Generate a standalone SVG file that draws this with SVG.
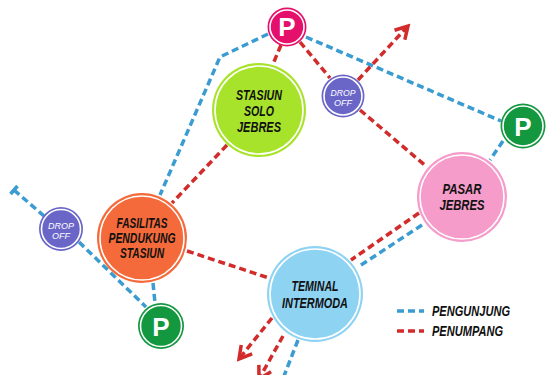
<svg xmlns="http://www.w3.org/2000/svg" width="546" height="375" viewBox="0 0 546 375">
<defs>
<style>
.bl{fill:none;stroke:#3a9cd0;stroke-width:3.5;stroke-dasharray:7 4;stroke-linejoin:round}
.rd{fill:none;stroke:#d22b2b;stroke-width:3.5;stroke-dasharray:7 4}
.ring{fill:none;stroke:#fff;stroke-width:1.6}
.lbl{font-family:"Liberation Sans",Arial,sans-serif;font-weight:bold;font-style:italic;font-size:14px;fill:#111;text-anchor:middle}
.dro{font-family:"Liberation Sans",Arial,sans-serif;font-style:italic;font-size:9px;fill:#fff;text-anchor:middle}
.p{font-family:"Liberation Sans",Arial,sans-serif;font-weight:bold;font-size:26px;fill:#fff;text-anchor:middle}
.leg{font-family:"Liberation Sans",Arial,sans-serif;font-weight:bold;font-style:italic;font-size:14.5px;fill:#111}
</style>
<marker id="arr" viewBox="0 0 10 10" refX="8" refY="5" markerWidth="5" markerHeight="5" orient="auto" markerUnits="strokeWidth">
<path d="M1,1 L8,5 L1,9" fill="none" stroke="#d22b2b" stroke-width="2"/>
</marker>
</defs>
<rect width="546" height="375" fill="#fff"/>
<g id="connectors">
<polyline class="bl" points="268,34 220,57 160,195"/>
<line class="bl" x1="306" y1="37" x2="501" y2="121"/>
<line class="bl" x1="503" y1="141" x2="490" y2="160"/>
<line class="bl" x1="422" y1="225" x2="358" y2="267"/>
<line class="bl" x1="14" y1="190" x2="44" y2="216"/>
<line x1="10.5" y1="194" x2="17.5" y2="186" stroke="#3a9cd0" stroke-width="3.5"/>
<line class="bl" x1="79" y1="242" x2="146" y2="307"/>
<line class="bl" x1="153" y1="283" x2="155" y2="303"/>
<line class="bl" x1="298" y1="340" x2="284" y2="376"/>
<line class="rd" x1="281" y1="45" x2="273" y2="64"/>
<line class="rd" x1="300" y1="42" x2="330" y2="78"/>
<line class="rd" x1="360" y1="110" x2="427" y2="167"/>
<line class="rd" x1="358" y1="80" x2="408" y2="26" marker-end="url(#arr)"/>
<line class="rd" x1="227" y1="145" x2="172" y2="203"/>
<line class="rd" x1="187" y1="251" x2="269" y2="278"/>
<line class="rd" x1="419" y1="213" x2="351" y2="260"/>
<line class="rd" x1="272" y1="318" x2="239" y2="359" marker-end="url(#arr)"/>
<line class="rd" x1="283" y1="336" x2="259" y2="379" marker-end="url(#arr)"/>
</g>
<g id="stasiun-solo-jebres">
<circle cx="259" cy="110" r="47" fill="#a8e32b"/>
<circle class="ring" cx="259" cy="110" r="44"/>
<text class="lbl" x="259" y="100" textLength="46" lengthAdjust="spacingAndGlyphs">STASIUN</text>
<text class="lbl" x="259" y="116" textLength="30" lengthAdjust="spacingAndGlyphs">SOLO</text>
<text class="lbl" x="259" y="132" textLength="44" lengthAdjust="spacingAndGlyphs">JEBRES</text>
</g>
<g id="fasilitas">
<circle cx="142" cy="238" r="45" fill="#f46a3a"/>
<circle class="ring" cx="142" cy="238" r="42"/>
<text class="lbl" x="142" y="228" textLength="51" lengthAdjust="spacingAndGlyphs">FASILITAS</text>
<text class="lbl" x="142" y="243" textLength="67" lengthAdjust="spacingAndGlyphs">PENDUKUNG</text>
<text class="lbl" x="142" y="258" textLength="44" lengthAdjust="spacingAndGlyphs">STASIUN</text>
</g>
<g id="pasar-jebres">
<circle cx="462" cy="197" r="45" fill="#f59ccb"/>
<circle class="ring" cx="462" cy="197" r="42"/>
<text class="lbl" x="462" y="194" textLength="39" lengthAdjust="spacingAndGlyphs">PASAR</text>
<text class="lbl" x="462" y="210" textLength="45" lengthAdjust="spacingAndGlyphs">JEBRES</text>
</g>
<g id="teminal-intermoda">
<circle cx="315" cy="294" r="48" fill="#8fd3f2"/>
<circle class="ring" cx="315" cy="294" r="45"/>
<text class="lbl" x="315" y="291" textLength="47" lengthAdjust="spacingAndGlyphs">TEMINAL</text>
<text class="lbl" x="315" y="308" textLength="66" lengthAdjust="spacingAndGlyphs">INTERMODA</text>
</g>
<g id="drop-off-top">
<circle cx="343" cy="96" r="21.5" fill="#6a66c8"/>
<circle class="ring" cx="343" cy="96" r="19"/>
<text class="dro" x="343" y="95.5" textLength="25" lengthAdjust="spacingAndGlyphs">DROP</text>
<text class="dro" x="343" y="106" textLength="18" lengthAdjust="spacingAndGlyphs">OFF</text>
</g>
<g id="drop-off-left">
<circle cx="61" cy="229" r="22" fill="#6a66c8"/>
<circle class="ring" cx="61" cy="229" r="19.5"/>
<text class="dro" x="61" y="228.5" textLength="26" lengthAdjust="spacingAndGlyphs">DROP</text>
<text class="dro" x="61" y="239" textLength="18" lengthAdjust="spacingAndGlyphs">OFF</text>
</g>
<g id="parking-top">
<circle cx="287" cy="27" r="19.5" fill="#e5106b"/>
<circle class="ring" cx="287" cy="27" r="17"/>
<text class="p" x="287" y="36">P</text>
</g>
<g id="parking-right">
<circle cx="523" cy="126" r="22.5" fill="#13973f"/>
<circle class="ring" cx="523" cy="126" r="20"/>
<text class="p" x="523" y="135.5">P</text>
</g>
<g id="parking-bottom">
<circle cx="161" cy="326" r="23" fill="#13973f"/>
<circle class="ring" cx="161" cy="326" r="20.5"/>
<text class="p" x="161" y="335.5">P</text>
</g>
<g id="legend">
<line class="bl" x1="397" y1="311" x2="424" y2="311" stroke-dasharray="6 3"/>
<line class="rd" x1="397" y1="331" x2="424" y2="331" stroke-dasharray="6 3"/>
<text class="leg" x="432" y="316" textLength="78" lengthAdjust="spacingAndGlyphs">PENGUNJUNG</text>
<text class="leg" x="432" y="336" textLength="71" lengthAdjust="spacingAndGlyphs">PENUMPANG</text>
</g>
</svg>
